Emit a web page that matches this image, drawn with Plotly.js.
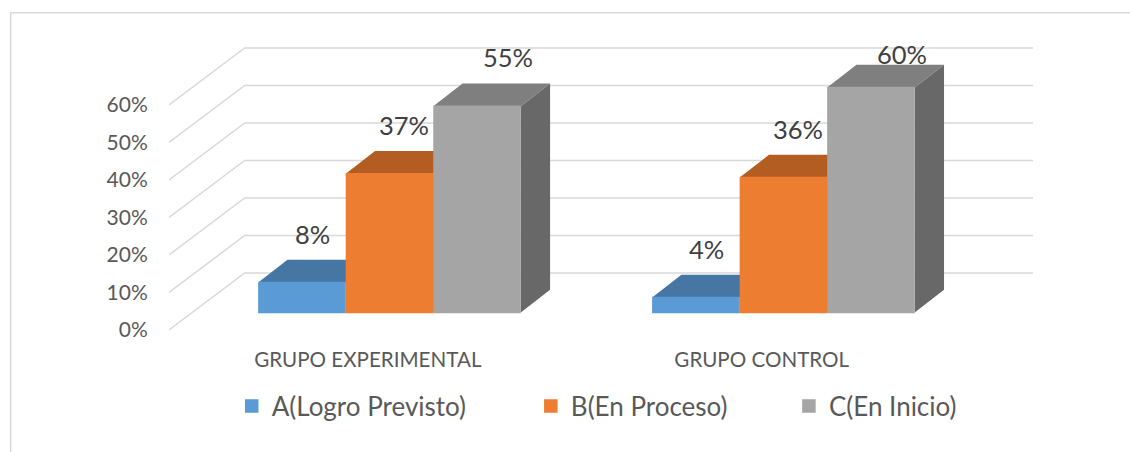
<!DOCTYPE html>
<html><head><meta charset="utf-8">
<script src="https://cdn.plot.ly/plotly-3.0.1.min.js"></script>
<style>html,body{margin:0;padding:0;background:#fff}#c{width:1130px;height:452px}</style>
</head><body><div id="c"></div>
<script>
const categories = ["GRUPO EXPERIMENTAL", "GRUPO CONTROL"];
const seriesNames = ["A(Logro Previsto)", "B(En Proceso)", "C(En Inicio)"];
const valuesA = [8, 4];
const valuesB = [37, 36];
const valuesC = [55, 60];
const tickValues = [0, 10, 20, 30, 40, 50, 60];
const tickLabels = ["0%", "10%", "20%", "30%", "40%", "50%", "60%"];

const series = [valuesA, valuesB, valuesC];
const frontColors = ["#5B9BD5", "#ED7D31", "#A5A5A5"];
const topColors = ["#4676A3", "#B45D22", "#7F7F7F"];
const sideColors = ["#3E688F", "#9C5120", "#686868"];

const W = 1130, H = 452;
const L = 169.3, R = 1033, T = 30, B = 345;
const pxPerPct = 3.75;
const pxPerCat = 393.8;
const cat0px = 389.7;
const xRange = [(L - cat0px) / pxPerCat, (R - cat0px) / pxPerCat];
const barW = 87.5 / pxPerCat;
const wallDx = 75.7 / pxPerCat, wallDy = 57 / pxPerPct;
const boxDx = 29.3 / pxPerCat, boxDy = 22.8 / pxPerPct;
const baseShift = 17.4 / pxPerPct;
const yRangeGrid = [-4, 80];
const yRangeBars = [-4 - baseShift, 80 - baseShift];
const barEdge = 1.5;

const traces = [];

// receding wall / floor gridlines
const gx = [], gy = [];
tickValues.forEach(v => {
  gx.push(xRange[0], xRange[0] + wallDx, xRange[1], null);
  gy.push(v, v + wallDy, v + wallDy, null);
});
traces.push({type: "scatter", mode: "lines", x: gx, y: gy, xaxis: "x", yaxis: "y",
  line: {color: "#D9D9D9", width: 1.5}, hoverinfo: "skip", showlegend: false, cliponaxis: false});

// top and side faces of each column
series.forEach((vals, s) => {
  const off = (s - 1) * barW;
  const tx = [], ty = [], sx = [], sy = [];
  vals.forEach((v, c) => {
    const x0 = c + off - barW / 2, x1 = c + off + barW / 2;
    tx.push(x0, x0 + boxDx, x1 + boxDx, x1, x0, null);
    ty.push(v, v + boxDy, v + boxDy, v, v, null);
    sx.push(x1, x1 + boxDx, x1 + boxDx, x1, x1, null);
    sy.push(v, v + boxDy, boxDy, 0, v, null);
  });
  traces.push({type: "scatter", mode: "none", x: sx, y: sy, xaxis: "x", yaxis: "y2",
    fill: "toself", fillcolor: sideColors[s], hoverinfo: "skip", showlegend: false});
  traces.push({type: "scatter", mode: "none", x: tx, y: ty, xaxis: "x", yaxis: "y2",
    fill: "toself", fillcolor: topColors[s], hoverinfo: "skip", showlegend: false});
});

// front faces
const legendIds = ["legend", "legend2", "legend3"];
series.forEach((vals, s) => {
  traces.push({type: "bar", name: seriesNames[s], x: vals.map((_, c) => c), y: vals,
    xaxis: "x", yaxis: "y3", legend: legendIds[s],
    marker: {color: frontColors[s], line: {width: barEdge, color: frontColors[s]}}});
});

// data labels
const labelDx = [11, 15, 31];
const annotations = [];
series.forEach((vals, s) => vals.forEach((v, c) => {
  annotations.push({xref: "x", yref: "y3", x: c + (s - 1) * barW, y: v, text: v + "%",
    showarrow: false, xshift: labelDx[s], yshift: v === 60 ? 34 : 49,
    font: {family: "Lato, sans-serif", size: 25.5, color: "#404040"}});
}));

const legendFont = {family: "Lato, sans-serif", size: 26, color: "#595959"};
const px = x => (x - L) / (R - L);
const py = y => (B - y) / (B - T);
const legendCommon = {orientation: "h", yanchor: "middle", xanchor: "left", bgcolor: "rgba(0,0,0,0)",
  borderwidth: 0, font: legendFont, itemclick: false, itemdoubleclick: false};

const layout = {
  width: W, height: H,
  margin: {l: L, r: W - R, t: T, b: H - B, pad: 0, autoexpand: false},
  paper_bgcolor: "#fff", plot_bgcolor: "rgba(0,0,0,0)",
  barmode: "group", bargap: 1 / 3, bargroupgap: barEdge / 87.5,
  showlegend: true,
  xaxis: {type: "linear", range: xRange, showgrid: false, zeroline: false, showline: false,
    tickmode: "array", tickvals: [-0.055, 0.945], ticktext: categories, ticks: "",
    tickfont: {family: "Lato, sans-serif", size: 20.6, color: "#595959"}, fixedrange: true},
  yaxis: {range: yRangeGrid, tickmode: "array", tickvals: tickValues, ticktext: tickLabels,
    showgrid: false, zeroline: false, showline: false, ticks: "outside", ticklen: 16, tickcolor: "rgba(0,0,0,0)",
    ticklabelshift: 1.5,
    tickfont: {family: "Lato, sans-serif", size: 21, color: "#595959"}, fixedrange: true},
  yaxis2: {range: yRangeBars, overlaying: "y", visible: false, fixedrange: true},
  yaxis3: {range: yRangeBars, overlaying: "y", visible: false, fixedrange: true},
  legend: Object.assign({}, legendCommon, {x: px(232), y: py(406)}),
  legend2: Object.assign({}, legendCommon, {x: px(531), y: py(406)}),
  legend3: Object.assign({}, legendCommon, {x: px(789), y: py(406)}),
  annotations: annotations,
  shapes: [
    {type: "line", xref: "paper", yref: "paper", x0: px(11), x1: px(1130), y0: py(12.7), y1: py(12.7),
      line: {color: "#D9D9D9", width: 1.5}, layer: "below"},
    {type: "line", xref: "paper", yref: "paper", x0: px(11), x1: px(11), y0: py(12), y1: py(452),
      line: {color: "#D9D9D9", width: 1.5}, layer: "below"}
  ]
};
Plotly.newPlot("c", traces, layout, {displayModeBar: false, staticPlot: true});
</script></body></html>
